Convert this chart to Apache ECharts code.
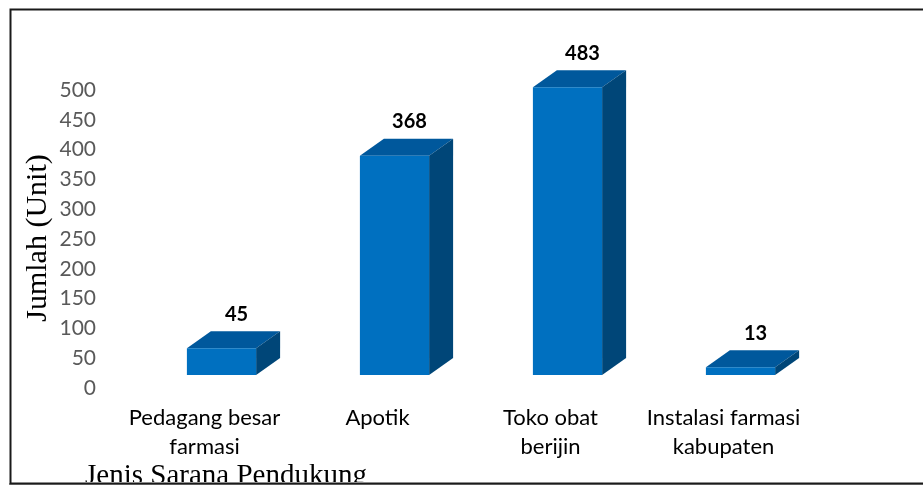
<!DOCTYPE html>
<html>
<head>
<meta charset="utf-8">
<script src="https://cdn.jsdelivr.net/npm/echarts@6/dist/echarts.min.js"></script>
<style>
  html, body { margin: 0; padding: 0; background: #fff; }
  #chart { width: 923px; height: 487px; }
</style>
</head>
<body>
<div id="chart"></div>
<script>
  /* ---------- 資料 ---------- */
  const categories = ['Pedagang besar\nfarmasi', 'Apotik', 'Toko obat\nberijin', 'Instalasi farmasi\nkabupaten'];
  const values = [45, 368, 483, 13];

  /* ---------- 3D 方塊外觀 ---------- */
  const FRONT = '#0070c0';
  const TOP = '#00589c';
  const SIDE = '#004678';
  const SHIFT_X = 17;   // 前面相對類別中心的位移
  const SHIFT_Y = -13;
  const DEPTH_X = 24;   // 深度
  const DEPTH_Y = -17;

  function renderBox(params, api) {
    const base = api.coord([api.value(0), 0]);
    const top = api.coord([api.value(0), api.value(1)]);
    const bw = api.size([1, 0])[0] * 0.4;
    const x0 = base[0] - bw / 2 + SHIFT_X;
    const x1 = x0 + bw;
    const yb = base[1] + SHIFT_Y;
    const yt = top[1] + SHIFT_Y;
    return {
      type: 'group',
      children: [
        { type: 'polygon', shape: { points: [[x0, yt], [x1, yt], [x1 + DEPTH_X, yt + DEPTH_Y], [x0 + DEPTH_X, yt + DEPTH_Y]] }, style: { fill: TOP } },
        { type: 'polygon', shape: { points: [[x1, yt], [x1 + DEPTH_X, yt + DEPTH_Y], [x1 + DEPTH_X, yb + DEPTH_Y], [x1, yb]] }, style: { fill: SIDE } },
        { type: 'rect', shape: { x: x0, y: yt, width: bw, height: yb - yt }, style: { fill: FRONT } },
        {
          type: 'text',
          x: (x0 + x1) / 2 + 15,
          y: yt + DEPTH_Y - 17,
          style: {
            text: String(api.value(1)), fill: '#000', font: 'bold 20px Lato',
            align: 'center', verticalAlign: 'middle'
          }
        }
      ]
    };
  }

  const chart = echarts.init(document.getElementById('chart'), null, { renderer: 'canvas' });
  chart.setOption({
    animation: false,
    backgroundColor: '#fff',
    grid: { left: 118, right: 113, top: 90, bottom: 99, containLabel: false },
    xAxis: {
      type: 'category',
      data: categories,
      axisLine: { show: false },
      axisTick: { show: false },
      axisLabel: { color: '#000', fontFamily: 'Lato', fontSize: 22, lineHeight: 29, margin: 15, verticalAlign: 'top', interval: 0 }
    },
    yAxis: {
      type: 'value',
      min: 0, max: 500, interval: 50,
      axisLine: { show: false },
      axisTick: { show: false },
      splitLine: { show: false },
      axisLabel: { color: '#595959', fontFamily: 'Lato', fontSize: 21, margin: 22 }
    },
    graphic: [
      {
        type: 'text', x: 38, y: 238, rotation: Math.PI / 2,
        style: { text: 'Jumlah (Unit)', font: '30px "Liberation Serif"', fill: '#000', align: 'center', verticalAlign: 'middle' }
      },
      {
        type: 'text', x: 85, y: 476,
        style: { text: 'Jenis Sarana Pendukung', font: '29px "Liberation Serif"', fill: '#000', align: 'left', verticalAlign: 'middle' }
      },
      // 外框下方遮住被裁切的文字
      { type: 'rect', left: 0, top: 482, shape: { width: 923, height: 5 }, style: { fill: '#fff' } },
      { type: 'rect', left: 9, top: 483, shape: { width: 914, height: 2 }, style: { fill: '#9a9a9a' } },
      { type: 'rect', left: 8, top: 7, shape: { width: 940, height: 474 }, style: { fill: 'none', stroke: '#1a1a1a', lineWidth: 2 } }
    ],
    series: [{
      type: 'custom',
      renderItem: renderBox,
      encode: { x: 0, y: 1 },
      data: values.map(function (v, i) { return [i, v]; })
    }]
  });
</script>
</body>
</html>
